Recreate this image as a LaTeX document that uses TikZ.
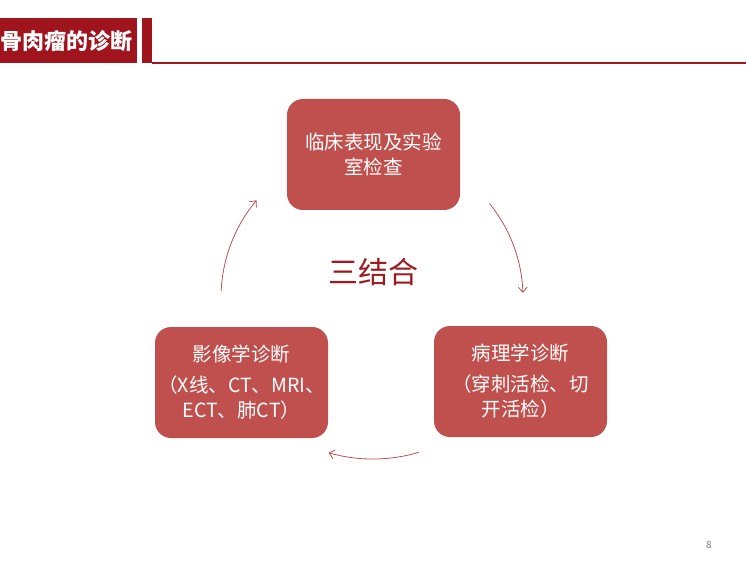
\documentclass[tikz,border=0pt]{standalone}
\usepackage{fontspec}
\setmainfont{Noto Sans CJK SC}
\usetikzlibrary{arrows.meta}
\definecolor{hdr}{HTML}{A0141E}
\definecolor{boxc}{HTML}{C0504D}
\definecolor{arrc}{HTML}{C0504D}
\definecolor{mid}{HTML}{9E1A20}
\tikzset{
  dbox/.style={fill=boxc, draw=none, rounded corners=16pt, minimum width=173pt, minimum height=111pt, text=white, align=center, font=\fontsize{19.5}{25}\selectfont, inner sep=0pt},
  cyc/.style={draw=arrc, line width=0.8pt, -{Straight Barb[length=5pt,width=9pt]}}
}
\begin{document}
\begin{tikzpicture}[x=1pt,y=-1pt]
\useasboundingbox (0,0) rectangle (746,561);
% header
\fill[hdr] (0,18) rectangle (137,63.5);
\fill[hdr] (142,18) rectangle (152,63.5);
\fill[hdr] (152,62) rectangle (746,64);
\node[anchor=west, text=white, font=\fontsize{22}{24}\selectfont\bfseries, inner sep=0pt] (title) at (0.5,41.5) {骨肉瘤的诊断};
% boxes
\node[dbox] (top) at (373.5,154.5) {临床表现及实验\\室检查};
\node[dbox] (left) at (241.5,382.5) {影像学诊断\\[6pt]（X线、CT、MRI、\\ECT、肺CT）};
\node[dbox] (right) at (520.5,381.5) {病理学诊断\\[6pt]（穿刺活检、切\\开活检）};
\node[text=mid, font=\fontsize{30}{32}\selectfont, inner sep=0pt] (center) at (373.5,272) {三结合};
% cycle arrows
\coordinate (o) at (373,298);
\coordinate (a1) at ([shift={(-177.5:152)}]o);
\coordinate (b1) at ([shift={(-39:150)}]o);
\coordinate (c1) at ([shift={(73.5:161)}]o);
\draw[cyc] (a1) arc[start angle=-177.5, end angle=-140, radius=152];
\draw[cyc] (b1) arc[start angle=-39, end angle=-2, radius=150];
\draw[cyc] (c1) arc[start angle=73.5, end angle=106, radius=161];
% page number
\node[text=gray, font=\fontsize{10}{12}\selectfont, inner sep=0pt] (pg) at (709,545) {8};
\end{tikzpicture}
\end{document}
